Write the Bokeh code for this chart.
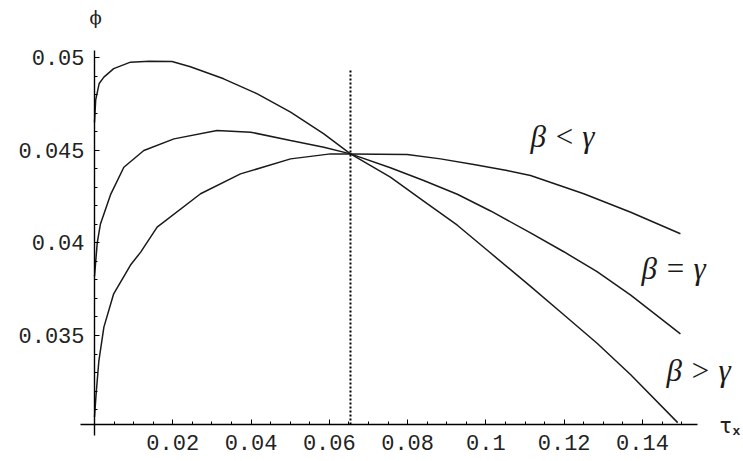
from bokeh.plotting import figure
from bokeh.models import FixedTicker, Range1d, Label
from bokeh.embed import file_html
from bokeh.resources import INLINE

# --- data ---
x_beta_gt = [0.0, 0.0003, 0.0012, 0.0024, 0.0049, 0.0092, 0.014, 0.0198, 0.0245, 0.033, 0.0416,
             0.0501, 0.0586, 0.0654, 0.0756, 0.0841, 0.0927, 0.1012, 0.1114, 0.1199, 0.1284,
             0.137, 0.1490]
y_beta_gt = [0.0465, 0.0477, 0.0486, 0.04894, 0.0494, 0.04975, 0.0498, 0.04978, 0.0495, 0.04885, 0.04804,
             0.04705, 0.04588, 0.0448, 0.04354, 0.04225, 0.04095, 0.03945, 0.03765, 0.03612, 0.03458,
             0.03288, 0.0303]

x_beta_eq = [0.0, 0.0007, 0.0015, 0.0041, 0.0075, 0.0126, 0.0203, 0.0313, 0.0399, 0.0501, 0.0586,
             0.0654, 0.0756, 0.0841, 0.0927, 0.1012, 0.1114, 0.1199, 0.1284, 0.137, 0.1497]
y_beta_eq = [0.0382, 0.0400, 0.0410, 0.0426, 0.04408, 0.04498, 0.04561, 0.04606, 0.04597, 0.04552, 0.04516,
             0.0448, 0.04405, 0.04336, 0.04262, 0.04172, 0.04054, 0.03952, 0.03845, 0.03718, 0.03509]

x_beta_lt = [0.0, 0.0004, 0.0011, 0.0024, 0.0049, 0.0092, 0.0118, 0.016, 0.0271, 0.0373, 0.0501,
             0.0603, 0.0654, 0.0799, 0.0884, 0.0969, 0.1054, 0.1114, 0.125, 0.137, 0.1497]
y_beta_lt = [0.0306, 0.0318, 0.0336, 0.03545, 0.03725, 0.0388, 0.0395, 0.04085, 0.04265, 0.04372, 0.04453,
             0.0448, 0.0448, 0.04477, 0.04453, 0.04423, 0.0439, 0.04363, 0.04265, 0.04165, 0.04049]

dotted_x = [0.0654, 0.0654]
dotted_y = [0.0302, 0.0494]

x_ticks = [0.02, 0.04, 0.06, 0.08, 0.1, 0.12, 0.14]
x_tick_labels = ["0.02", "0.04", "0.06", "0.08", "0.1", "0.12", "0.14"]
x_minor_ticks = [0.005, 0.01, 0.015, 0.025, 0.03, 0.035, 0.045, 0.05, 0.055, 0.065, 0.07, 0.075,
                 0.085, 0.09, 0.095, 0.105, 0.11, 0.115, 0.125, 0.13, 0.135, 0.145, 0.15]
y_ticks = [0.035, 0.04, 0.045, 0.05]
y_tick_labels = ["0.035", "0.04", "0.045", "0.05"]
y_minor_ticks = [0.031, 0.032, 0.033, 0.034, 0.036, 0.037, 0.038, 0.039, 0.041, 0.042, 0.043, 0.044,
                 0.046, 0.047, 0.048, 0.049]

curve_labels = ["β < γ", "β = γ", "β > γ"]
x_axis_title = "τ"
x_axis_sub = "x"
y_axis_title = "ϕ"

x_origin = 0.0
y_origin = 0.0302

p = figure(width=743, height=461, output_backend="svg", toolbar_location=None,
           x_range=Range1d(-0.024016, 0.165815), y_range=Range1d(0.028201, 0.053076),
           min_border=0, min_border_left=0, min_border_right=0,
           min_border_top=0, min_border_bottom=0)
p.outline_line_color = None
p.grid.visible = False
p.background_fill_color = "white"

line_color = "#1a1a1a"
for xs, ys in [(x_beta_gt, y_beta_gt), (x_beta_eq, y_beta_eq), (x_beta_lt, y_beta_lt)]:
    p.line(xs, ys, line_color=line_color, line_width=1.5)

p.line(dotted_x, dotted_y, line_color="black", line_width=2.0, line_dash="2 2")

for ax in (p.xaxis[0], p.yaxis[0]):
    ax.axis_line_color = "black"
    ax.axis_line_width = 1.4
    ax.major_tick_line_color = "black"
    ax.minor_tick_line_color = "black"
    ax.major_tick_out = 0
    ax.minor_tick_out = 0
    ax.major_tick_in = 5
    ax.minor_tick_in = 3
    ax.major_label_text_font = "Liberation Mono"
    ax.major_label_text_font_size = "22px"
    ax.major_label_text_color = "#222222"

xa = p.xaxis[0]
xa.ticker = FixedTicker(ticks=x_ticks, minor_ticks=x_minor_ticks)
xa.major_label_overrides = dict(zip(x_ticks, x_tick_labels))
xa.fixed_location = y_origin
xa.bounds = (-0.0036, 0.154)
xa.major_label_standoff = 11

ya = p.yaxis[0]
ya.ticker = FixedTicker(ticks=y_ticks, minor_ticks=y_minor_ticks)
ya.major_label_overrides = dict(zip(y_ticks, y_tick_labels))
ya.fixed_location = x_origin
ya.bounds = (0.0296, 0.0504)
ya.major_label_standoff = 10

# axis titles (Mathematica places them at the axis ends)
p.add_layout(Label(x=0.00026, y=0.05216, text=y_axis_title, text_font="DejaVu Serif",
                   text_font_size="18px", text_align="center", text_baseline="middle",
                   text_color="#222222"))
p.add_layout(Label(x=0.16122, y=0.030144, text=x_axis_title, text_font="DejaVu Sans Mono",
                   text_font_size="22px", text_align="center", text_baseline="middle",
                   text_color="#222222"))
p.add_layout(Label(x=0.16403, y=0.02982, text=x_axis_sub, text_font="Liberation Mono",
                   text_font_size="13px", text_font_style="bold", text_align="center",
                   text_baseline="middle", text_color="#222222"))

label_pos = [(0.11957, 0.045737), (0.14795, 0.038615), (0.15434, 0.033111)]
for txt, (lx, ly) in zip(curve_labels, label_pos):
    p.add_layout(Label(x=lx, y=ly, text=txt, text_font="Liberation Serif",
                       text_font_style="italic", text_font_size="31px",
                       text_align="center", text_baseline="middle", text_color="#1a1a1a"))

open("out.html", "w").write(file_html(p, INLINE))
